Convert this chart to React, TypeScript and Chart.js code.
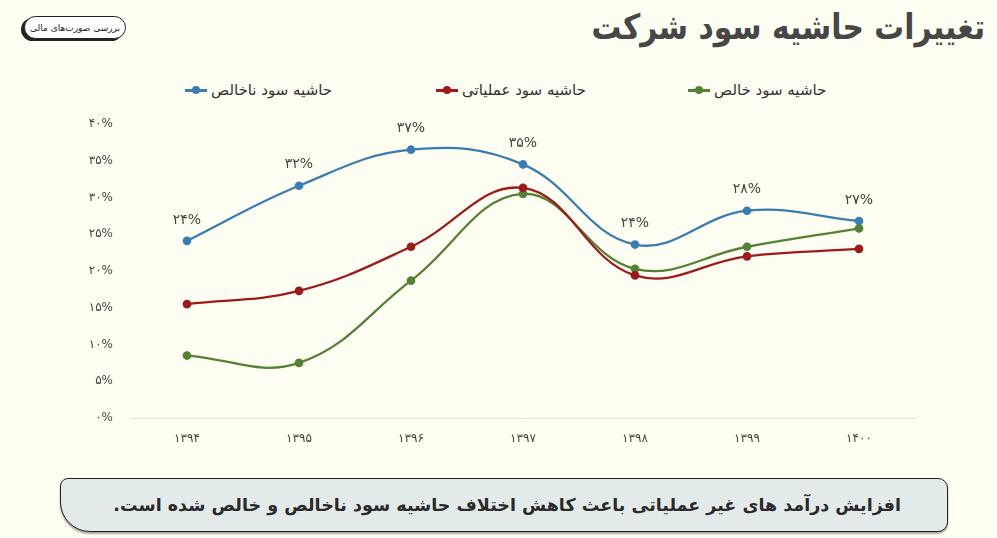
import React, { useEffect, useRef } from "react";
import { Chart, registerables } from "chart.js";

Chart.register(...registerables);

const years = ["۱۳۹۴", "۱۳۹۵", "۱۳۹۶", "۱۳۹۷", "۱۳۹۸", "۱۳۹۹", "۱۴۰۰"];
const grossMargin = [24.1, 31.6, 36.5, 34.5, 23.6, 28.2, 26.8];
const operatingMargin = [15.5, 17.3, 23.3, 31.3, 19.4, 22.0, 23.0];
const netMargin = [8.5, 7.5, 18.7, 30.5, 20.3, 23.3, 25.8];
const seriesNames = ["حاشیه سود ناخالص", "حاشیه سود عملیاتی", "حاشیه سود خالص"];
const seriesColors = ["#3A7DB3", "#9E1B1B", "#548235"];
const yMin = 0;
const yMax = 40;
const yStep = 5;

const titleText = "تغییرات حاشیه سود شرکت";
const badgeText = "بررسی صورت‌های مالی";
const noteText = "افزایش درآمد های غیر عملیاتی باعث کاهش اختلاف حاشیه سود ناخالص و خالص شده است.";

const FONT = "'DejaVu Sans', 'Noto Sans', sans-serif";
const BG = "#FEFEF2";
const legendLefts = [185, 436, 688];

const toFa = (n: number | string) =>
  String(n).replace(/[0-9]/g, (d) => "۰۱۲۳۴۵۶۷۸۹"[Number(d)]);

const labelPlugin = {
  id: "grossLabels",
  afterDatasetsDraw(chart: any) {
    const ctx = chart.ctx;
    const meta = chart.getDatasetMeta(0);
    const data = chart.data.datasets[0].data as number[];
    ctx.save();
    ctx.font = `14px ${FONT}`;
    ctx.fillStyle = "#444";
    ctx.textAlign = "center";
    ctx.textBaseline = "middle";
    meta.data.forEach((pt: any, i: number) => {
      ctx.fillText(toFa(Math.round(data[i])) + "%", pt.x, pt.y - 21);
    });
    ctx.restore();
  },
};

export default function App() {
  const canvasRef = useRef<HTMLCanvasElement | null>(null);

  useEffect(() => {
    if (!canvasRef.current) return;
    const values = [grossMargin, operatingMargin, netMargin];
    const chart = new Chart(canvasRef.current, {
      type: "line",
      data: {
        labels: years,
        datasets: values.map((v, i) => ({
          label: seriesNames[i],
          data: v,
          borderColor: seriesColors[i],
          backgroundColor: seriesColors[i],
          borderWidth: 2.3,
          pointRadius: 3.2,
          pointHoverRadius: 3.2,
          tension: 0.4,
          fill: false,
        })),
      },
      options: {
        animation: false,
        responsive: false,
        maintainAspectRatio: false,
        layout: { padding: { top: 24, right: 82, bottom: 2, left: 0 } },
        plugins: {
          legend: { display: false },
          tooltip: { enabled: false },
          title: { display: false },
        },
        scales: {
          x: {
            offset: true,
            grid: { display: false },
            border: { display: true, color: "#E2E2DA", width: 1 },
            afterFit: (scale: any) => {
              scale.height = 40;
            },
            ticks: {
              color: "#444",
              font: { family: FONT, size: 12 },
              padding: 6,
            },
          },
          y: {
            min: yMin,
            max: yMax,
            grid: { display: false },
            border: { display: false },
            afterFit: (scale: any) => {
              scale.width = 131;
            },
            ticks: {
              stepSize: yStep,
              color: "#444",
              padding: 10,
              font: { family: FONT, size: 12 },
              callback: (v: any) => toFa(v) + "%",
            },
          },
        },
      },
      plugins: [labelPlugin],
    });
    return () => chart.destroy();
  }, []);

  return (
    <div
      style={{
        position: "fixed",
        left: 0,
        top: 0,
        width: 997,
        height: 538,
        background: BG,
        fontFamily: FONT,
        overflow: "hidden",
      }}
    >
      {/* badge */}
      <div
        dir="rtl"
        style={{
          position: "absolute",
          left: 24,
          top: 16,
          width: 102,
          height: 23,
          borderRadius: 12,
          border: "1.5px solid #222",
          background: "#fff",
          boxShadow: "-3px 2px 0 #222",
          fontSize: 9,
          color: "#222",
          display: "flex",
          alignItems: "center",
          justifyContent: "center",
          boxSizing: "border-box",
          whiteSpace: "nowrap",
          overflow: "hidden",
        }}
      >
        {badgeText}
      </div>
      {/* title */}
      <div
        dir="rtl"
        style={{
          position: "absolute",
          right: 12,
          top: 7,
          fontSize: 35,
          fontWeight: "bold",
          color: "#474747",
          whiteSpace: "nowrap",
          transform: "scaleX(0.85)",
          transformOrigin: "right center",
        }}
      >
        {titleText}
      </div>
      {/* legend */}
      {seriesNames.map((name, i) => (
        <div
          key={i}
          style={{
            position: "absolute",
            left: legendLefts[i],
            top: 80,
            height: 20,
            display: "flex",
            alignItems: "center",
          }}
        >
          <span
            style={{
              position: "relative",
              display: "inline-block",
              width: 22,
              height: 3,
              background: seriesColors[i],
              marginRight: 4,
            }}
          >
            <span
              style={{
                position: "absolute",
                left: 7,
                top: -2.5,
                width: 8,
                height: 8,
                borderRadius: 4,
                background: seriesColors[i],
              }}
            />
          </span>
          <span dir="rtl" style={{ fontSize: 15, color: "#333", whiteSpace: "nowrap" }}>
            {name}
          </span>
        </div>
      ))}
      {/* chart */}
      <canvas
        ref={canvasRef}
        width={997}
        height={360}
        style={{ position: "absolute", left: 0, top: 100, width: 997, height: 360 }}
      />
      {/* note */}
      <div
        dir="rtl"
        style={{
          position: "absolute",
          left: 60,
          top: 478,
          width: 888,
          height: 54,
          boxSizing: "border-box",
          border: "1.5px solid #222",
          borderRadius: "8px 10px 10px 30px",
          background: "#E2EAEA",
          boxShadow: "0 2px 2px rgba(0,0,0,0.35)",
          display: "flex",
          alignItems: "center",
          paddingRight: 46,
          fontSize: 17.5,
          fontWeight: "bold",
          color: "#2a2a2a",
          whiteSpace: "nowrap",
        }}
      >
        {noteText}
      </div>
    </div>
  );
}
